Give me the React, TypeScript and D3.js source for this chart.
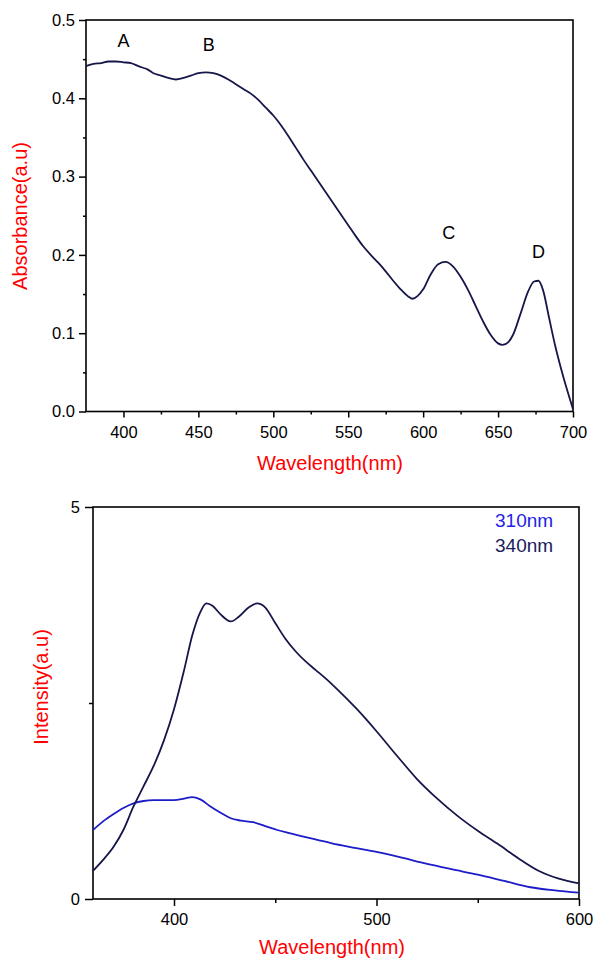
import * as d3 from 'd3';
import { useEffect, useRef } from 'react';

// Absorbance spectrum (top panel)
const absWavelength = [375, 380, 385, 390, 395, 400, 405, 410, 413, 416, 420, 425, 430, 435, 440, 445, 450, 455, 460, 465, 470, 475, 480, 485, 490, 495, 500, 505, 510, 515, 520, 525, 530, 535, 540, 545, 550, 555, 560, 565, 570, 575, 580, 585, 590, 593, 596, 600, 605, 610, 615, 620, 625, 630, 635, 640, 645, 650, 653, 657, 660, 665, 670, 674, 677, 680, 684, 688, 692, 696, 700];
const absValues = [0.441, 0.444, 0.445, 0.447, 0.447, 0.446, 0.445, 0.441, 0.439, 0.437, 0.432, 0.429, 0.426, 0.424, 0.426, 0.429, 0.432, 0.433, 0.432, 0.429, 0.424, 0.418, 0.412, 0.406, 0.398, 0.388, 0.378, 0.366, 0.352, 0.337, 0.322, 0.308, 0.294, 0.28, 0.266, 0.252, 0.238, 0.224, 0.211, 0.2, 0.19, 0.179, 0.167, 0.156, 0.147, 0.144, 0.147, 0.156, 0.175, 0.188, 0.191, 0.185, 0.172, 0.155, 0.135, 0.115, 0.098, 0.087, 0.085, 0.089, 0.098, 0.125, 0.153, 0.166, 0.167, 0.155, 0.12, 0.085, 0.055, 0.028, 0.003];

const peakLabels = ['A', 'B', 'C', 'D'];
const peakWavelength = [400, 457, 617, 677];
const peakValue = [0.472, 0.467, 0.227, 0.202];

// Emission spectra (bottom panel)
const em340Wavelength = [360, 365, 370, 375, 380, 385, 390, 395, 400, 405, 409, 413, 416, 419, 423, 428, 432, 437, 441, 445, 450, 455, 460, 465, 470, 475, 480, 490, 500, 510, 520, 530, 540, 550, 560, 570, 580, 590, 600];
const em340Values = [0.36, 0.5, 0.66, 0.88, 1.18, 1.44, 1.7, 2.02, 2.42, 2.92, 3.36, 3.66, 3.77, 3.74, 3.63, 3.54, 3.6, 3.72, 3.77, 3.72, 3.52, 3.32, 3.16, 3.03, 2.92, 2.81, 2.69, 2.43, 2.14, 1.83, 1.53, 1.28, 1.06, 0.87, 0.7, 0.52, 0.36, 0.26, 0.2];
const em310Wavelength = [360, 365, 370, 375, 380, 385, 390, 395, 400, 405, 409, 413, 418, 423, 428, 433, 439, 445, 451, 457, 465, 478, 490, 500, 512, 523, 537, 550, 563, 576, 588, 600];
const em310Values = [0.88, 0.99, 1.08, 1.16, 1.22, 1.25, 1.26, 1.26, 1.26, 1.28, 1.3, 1.27, 1.18, 1.1, 1.03, 1.0, 0.98, 0.93, 0.88, 0.84, 0.79, 0.71, 0.65, 0.6, 0.53, 0.46, 0.38, 0.31, 0.23, 0.15, 0.11, 0.08];

const legendLabels = ['310nm', '340nm'];

const NAVY = '#16164a';
const BLUE = '#1c1cc8';
const FONT = '"Liberation Sans", Arial, sans-serif';

const App = () => {
  const ref = useRef<SVGSVGElement>(null);

  useEffect(() => {
    const svg = d3.select(ref.current);
    svg.selectAll('*').remove();
    svg.attr('width', 594).attr('height', 959).style('font-family', FONT);

    const frame = (x0: number, x1: number, y0: number, y1: number) => {
      svg.append('rect')
        .attr('x', x0).attr('y', y0)
        .attr('width', x1 - x0).attr('height', y1 - y0)
        .attr('fill', 'none').attr('stroke', '#000').attr('stroke-width', 1.6);
    };

    const styleAxis = (g: d3.Selection<SVGGElement, unknown, null, undefined>) => {
      g.selectAll('.domain').remove();
      g.selectAll('line').attr('stroke', '#000').attr('stroke-width', 1.5);
      g.selectAll('text').attr('fill', '#000').style('font-size', '16.5px').style('font-family', FONT);
    };

    // ---------- Top: absorbance ----------
    const x1 = d3.scaleLinear().domain([375, 700]).range([86, 573]);
    const y1 = d3.scaleLinear().domain([0, 0.5]).range([411.5, 20]);

    frame(86, 573, 20, 411.5);

    const gx1 = svg.append('g').attr('transform', 'translate(0,411.5)');
    gx1.call(d3.axisBottom(x1).tickValues(d3.range(425, 700, 50)).tickSize(3).tickFormat(() => ''));
    gx1.call(g => g.append('g').call(d3.axisBottom(x1).tickValues(d3.range(400, 701, 50)).tickSize(6).tickPadding(9)));
    const gy1 = svg.append('g').attr('transform', 'translate(86,0)');
    gy1.call(d3.axisLeft(y1).tickValues(d3.range(0.05, 0.5, 0.1)).tickSize(3).tickFormat(() => ''));
    gy1.call(g => g.append('g').call(d3.axisLeft(y1).tickValues([0, 0.1, 0.2, 0.3, 0.4, 0.5]).tickSize(7).tickPadding(4).tickFormat(d3.format('.1f'))));
    styleAxis(gx1 as any);
    styleAxis(gy1 as any);

    const absLine = d3.line<number>()
      .x((_, i) => x1(absWavelength[i]))
      .y(d => y1(d))
      .curve(d3.curveMonotoneX);
    svg.append('path')
      .datum(absValues)
      .attr('fill', 'none')
      .attr('stroke', NAVY)
      .attr('stroke-width', 1.8)
      .attr('d', absLine);

    svg.selectAll('.peak')
      .data(peakLabels)
      .enter()
      .append('text')
      .attr('x', (_, i) => x1(peakWavelength[i]))
      .attr('y', (_, i) => y1(peakValue[i]))
      .attr('text-anchor', 'middle')
      .attr('dominant-baseline', 'middle')
      .attr('font-size', 18)
      .attr('fill', '#000')
      .text(d => d);

    svg.append('text')
      .attr('x', 330).attr('y', 470)
      .attr('text-anchor', 'middle')
      .attr('fill', 'red').attr('font-size', 20)
      .text('Wavelength(nm)');
    svg.append('text')
      .attr('transform', 'translate(27,216) rotate(-90)')
      .attr('text-anchor', 'middle')
      .attr('fill', 'red').attr('font-size', 20)
      .text('Absorbance(a.u)');

    // ---------- Bottom: emission ----------
    const x2 = d3.scaleLinear().domain([360, 600]).range([93, 579]);
    const y2 = d3.scaleLinear().domain([0, 5]).range([899, 507]);

    frame(93, 579, 507, 899);

    const gx2 = svg.append('g').attr('transform', 'translate(0,899)');
    gx2.call(d3.axisBottom(x2).tickValues([450, 550]).tickSize(4).tickFormat(() => ''));
    gx2.call(g => g.append('g').call(d3.axisBottom(x2).tickValues([400, 500, 600]).tickSize(7).tickPadding(7).tickFormat(d3.format('d'))));
    const gy2 = svg.append('g').attr('transform', 'translate(93,0)');
    gy2.call(d3.axisLeft(y2).tickValues([2.5]).tickSize(4).tickFormat(() => ''));
    gy2.call(g => g.append('g').call(d3.axisLeft(y2).tickValues([0, 5]).tickSize(8).tickPadding(5).tickFormat(d3.format('d'))));
    styleAxis(gx2 as any);
    styleAxis(gy2 as any);

    const emLine = (wl: number[]) => d3.line<number>()
      .x((_, i) => x2(wl[i]))
      .y(d => y2(d))
      .curve(d3.curveMonotoneX);

    svg.append('path')
      .datum(em310Values)
      .attr('fill', 'none')
      .attr('stroke', BLUE)
      .attr('stroke-width', 1.8)
      .attr('d', emLine(em310Wavelength));
    svg.append('path')
      .datum(em340Values)
      .attr('fill', 'none')
      .attr('stroke', NAVY)
      .attr('stroke-width', 1.8)
      .attr('d', emLine(em340Wavelength));

    svg.selectAll('.legend')
      .data(legendLabels)
      .enter()
      .append('text')
      .attr('x', 495)
      .attr('y', (_, i) => 522 + i * 25)
      .attr('dominant-baseline', 'middle')
      .attr('font-size', 19)
      .attr('fill', (_, i) => (i === 0 ? '#2323e6' : '#20205e'))
      .text(d => d);

    svg.append('text')
      .attr('x', 332).attr('y', 954)
      .attr('text-anchor', 'middle')
      .attr('fill', 'red').attr('font-size', 20)
      .text('Wavelength(nm)');
    svg.append('text')
      .attr('transform', 'translate(48,687) rotate(-90)')
      .attr('text-anchor', 'middle')
      .attr('fill', 'red').attr('font-size', 20)
      .text('Intensity(a.u)');
  }, []);

  return (
    <div style={{ position: 'absolute', left: 0, top: 0, background: '#fff' }}>
      <svg ref={ref} style={{ display: 'block' }}></svg>
    </div>
  );
};

export default App;
